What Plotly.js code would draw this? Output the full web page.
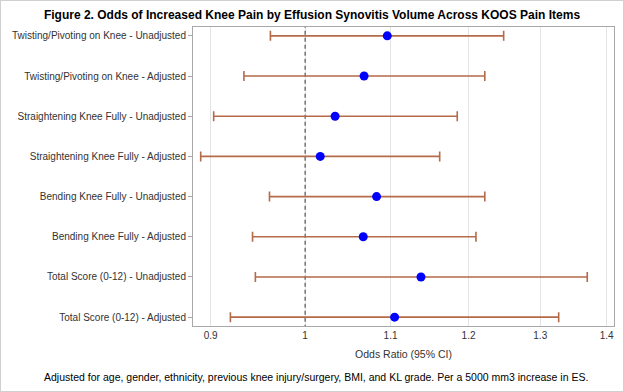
<!DOCTYPE html>
<html>
<head>
<meta charset="utf-8">
<script src="https://cdn.plot.ly/plotly-3.0.1.min.js"></script>
<style>
html,body{margin:0;padding:0;background:#fff;}
#wrap{position:relative;width:624px;height:392px;}
#chart{width:624px;height:392px;}
#frame{position:absolute;left:0;top:0;width:622px;height:390px;border:1px solid #d0d0d0;pointer-events:none;}
</style>
</head>
<body>
<div id="wrap"><div id="chart"></div><div id="frame"></div></div>
<script>
const categories = [
  "Twisting/Pivoting on Knee - Unadjusted",
  "Twisting/Pivoting on Knee - Adjusted",
  "Straightening Knee Fully - Unadjusted",
  "Straightening Knee Fully - Adjusted",
  "Bending Knee Fully - Unadjusted",
  "Bending Knee Fully - Adjusted",
  "Total Score (0-12) - Unadjusted",
  "Total Score (0-12) - Adjusted"
];
const oddsRatio = [1.096, 1.068, 1.034, 1.017, 1.083, 1.067, 1.138, 1.105];
const lowerCI  = [0.962, 0.934, 0.903, 0.890, 0.961, 0.943, 0.946, 0.920];
const upperCI  = [1.248, 1.222, 1.185, 1.162, 1.222, 1.210, 1.370, 1.327];
const xTicks = [0.9, 1, 1.1, 1.2, 1.3, 1.4];
const refValue = 1;

const idx = categories.map((_, i) => i);
const font = "Liberation Sans, Arial, sans-serif";

const traces = [
  {
    type: "scatter", mode: "lines",
    x: [refValue, refValue], y: [-1, 8],
    line: {color: "#555555", width: 1.2, dash: "4px,3px"},
    hoverinfo: "skip", showlegend: false
  },
  {
    type: "scatter", mode: "markers",
    x: oddsRatio, y: idx,
    marker: {color: "#0000ff", size: 9},
    error_x: {
      type: "data", symmetric: false,
      array: oddsRatio.map((v, i) => upperCI[i] - v),
      arrayminus: oddsRatio.map((v, i) => v - lowerCI[i]),
      color: "#b56a4a", thickness: 1.6, width: 5
    },
    showlegend: false
  }
];

const layout = {
  width: 624, height: 392,
  margin: {l: 193, r: 10, t: 27, b: 66},
  paper_bgcolor: "#ffffff", plot_bgcolor: "#ffffff",
  font: {family: font, size: 10, color: "#333333"},
  title: {
    text: "<b>Figure 2. Odds of Increased Knee Pain by Effusion Synovitis Volume Across KOOS Pain Items</b>",
    font: {family: font, size: 12, color: "#000000"},
    x: 0.5, xanchor: "center", y: 0.962, yanchor: "middle"
  },
  xaxis: {
    type: "log",
    range: [Math.log10(0.8824), Math.log10(1.4115)],
    tickvals: xTicks, ticktext: xTicks.map(String),
    showgrid: true, gridcolor: "#e4e4e4", gridwidth: 1,
    zeroline: false,
    showline: true, linecolor: "#a8a8a8", linewidth: 1, mirror: true,
    ticks: "", tickfont: {family: font, size: 10, color: "#333333"},
    title: {text: "Odds Ratio (95% CI)", font: {family: font, size: 10.5, color: "#333333"}, standoff: 10}
  },
  yaxis: {
    range: [7.22, -0.22],
    tickvals: idx, ticktext: categories,
    showgrid: false, zeroline: false,
    showline: true, linecolor: "#a8a8a8", linewidth: 1, mirror: true,
    ticks: "outside", ticklen: 4, tickcolor: "#a8a8a8",
    tickfont: {family: font, size: 10, color: "#333333"}
  },
  annotations: [{
    text: "Adjusted for age, gender, ethnicity, previous knee injury/surgery, BMI, and KL grade. Per a 5000 mm3 increase in ES.",
    xref: "paper", yref: "paper",
    x: (316 - 193) / 421, y: (326 - 377) / 299,
    xanchor: "center", yanchor: "middle", showarrow: false,
    font: {family: font, size: 10.5, color: "#000000"}
  }]
};

Plotly.newPlot("chart", traces, layout, {displayModeBar: false, staticPlot: true});
</script>
</body>
</html>
